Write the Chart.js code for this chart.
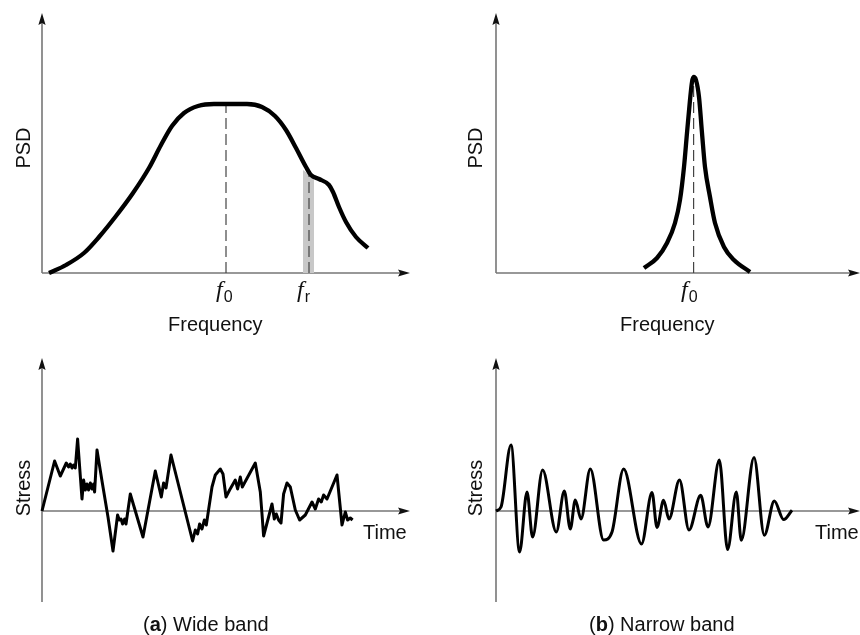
<!DOCTYPE html>
<html>
<head>
<meta charset="utf-8">
<script src="https://cdn.jsdelivr.net/npm/chart.js@4.4.0/dist/chart.umd.min.js"></script>
<style>
  html, body { margin: 0; padding: 0; background: #fff; }
  #figure { position: relative; width: 860px; height: 635px; overflow: hidden;
            font-family: "Liberation Sans", Arial, Helvetica, sans-serif; color: #111; }
  #figure canvas { position: absolute; }
  .lbl { position: absolute; font-size: 20px; line-height: 20px; white-space: nowrap; }
  .rot { transform: translate(-50%, -50%) rotate(-90deg); }
  .sym { font-family: "Liberation Serif", "DejaVu Serif", serif; font-style: italic; font-size: 24px; }
  .sub { font-size: 16px; position: relative; top: 5px; margin-left: 1px; }
</style>
</head>
<body>
<div id="figure">
  <canvas id="psdWide" width="430" height="320" style="left:0;top:0"></canvas>
  <canvas id="psdNarrow" width="430" height="320" style="left:430px;top:0"></canvas>
  <canvas id="stressWide" width="430" height="315" style="left:0;top:320px"></canvas>
  <canvas id="stressNarrow" width="430" height="315" style="left:430px;top:320px"></canvas>

  <div class="lbl rot" style="left:23px;top:148px">PSD</div>
  <div class="lbl rot" style="left:475px;top:148px">PSD</div>
  <div class="lbl" style="left:216px;top:279px"><span class="sym">f</span><span class="sub">0</span></div>
  <div class="lbl" style="left:297px;top:279px"><span class="sym">f</span><span class="sub">r</span></div>
  <div class="lbl" style="left:681px;top:279px"><span class="sym">f</span><span class="sub">0</span></div>
  <div class="lbl" style="left:168px;top:314px">Frequency</div>
  <div class="lbl" style="left:620px;top:314px">Frequency</div>

  <div class="lbl rot" style="left:23px;top:488px">Stress</div>
  <div class="lbl rot" style="left:475px;top:488px">Stress</div>
  <div class="lbl" style="left:363px;top:522px">Time</div>
  <div class="lbl" style="left:815px;top:522px">Time</div>
  <div class="lbl" style="left:143px;top:614px">(<b>a</b>) Wide band</div>
  <div class="lbl" style="left:589px;top:614px">(<b>b</b>) Narrow band</div>
</div>

<script>
// Wide band PSD (frequency / level, arbitrary units)
const psdWideFreq  = [7, 24, 42, 57, 74, 91, 107, 119, 130, 142, 156, 172, 205, 220, 233, 244, 254, 264, 269, 277, 287, 291, 297, 304, 314, 326];
const psdWideLevel = [0, 8, 20, 36, 57, 80, 105, 128, 147, 160, 167, 169, 169, 166, 157, 143, 125, 106, 98, 94, 88, 81, 66, 51, 36, 25];
const f0Wide = 184;
const f0WideTop = 168;
const frWide = 267;
const frWideTop = 99;
const frBandFreq  = [261, 272];
const frBandLevel = [103, 95];

// Narrow band PSD
const psdNarrowFreq  = [148, 161, 171, 179, 184, 188, 191, 194, 196, 197.6, 200, 203, 206, 209, 214, 219, 228, 238, 254];
const psdNarrowLevel = [5, 15, 30, 50, 73, 106, 140, 173, 191, 196, 193, 176, 140, 106, 76, 50, 26, 13, 1];
const f0Narrow = 197.6;
const f0NarrowTop = 194;

// Wide band stress history
const wideTime = [0, 12.6, 18.3, 24.3, 26.6, 28.3, 30, 31.6, 33.3, 35.6, 40, 41.6, 43.3, 45, 46.6, 48.3, 50, 51.6, 52.6,
  55, 60, 66, 71, 75.6, 77.3, 79, 80.6, 82.6, 84, 88.3, 101, 113.3, 119.3, 121.6, 124, 129,
  150.6, 153.3, 155.6, 157.6, 160, 162.3, 164.3, 170, 173.3, 178.3, 181, 184, 187.6, 193.3, 195.6, 198.3, 200.3,
  213.3, 218.3, 220, 221.6, 226.6, 230, 232.3, 234.3, 236.6, 239, 241.6, 245, 248.3, 253.3, 257.6,
  263.3, 270, 273.3, 276.6, 279.3, 281.6, 285, 295, 300, 303.3, 305.6, 308.3, 310.6];
const wideStress = [0, 50, 35, 48, 44, 47, 43, 46, 43, 72, 12, 31, 21, 27, 21, 28, 22, 27, 19,
  61, 30, -6, -40, -4, -9, -8, -13, -8, -13, 17, -26, 40, 14, 28, 23, 56,
  -30, -19, -23, -13, -18, -9, -14, 24, 36, 42, 37, 14, 21, 31, 22, 34, 24,
  48, 19, -3, -25, -6, 7, -8, -3, -9, -12, 17, 28, 24, 1, -9,
  -4, 9, 2, 12, 9, 16, 12, 36, -14, -1, -9, -7, -9];

// Narrow band stress history
const narrowTime   = [0, 5, 15, 23.6, 31, 36.6, 46.6, 60.3, 68.3, 74.3, 79.3, 85, 94.3, 107.6, 116, 127.6, 145.5, 156, 161,
  167.6, 173, 183.5, 193, 204.7, 212, 223.3, 231.6, 240.3, 245.3, 258, 268.3, 278.3, 287.6, 296];
const narrowStress = [0, 4, 66, -41, 19, -26, 41, -21, 20, -18, 11, -8, 42, -29, -21, 42, -33, 18.5, -16.5,
  10.7, -8, 31, -19, 15.7, -16, 51, -38.5, 19, -29.3, 53.4, -24.3, 10, -8.6, 0.7];

function zip(xs, ys) {
  return xs.map((x, i) => ({ x: x, y: ys[i] }));
}

// Draw the two axes with arrow heads, through the chart's scales
const arrowAxes = {
  id: 'arrowAxes',
  beforeDatasetsDraw(chart) {
    const ctx = chart.ctx;
    const xs = chart.scales.x, ys = chart.scales.y;
    const x0 = xs.getPixelForValue(0);
    const y0 = ys.getPixelForValue(0);
    const top = ys.getPixelForValue(ys.max);
    const bottom = ys.getPixelForValue(ys.min);
    const right = xs.getPixelForValue(xs.max);
    ctx.save();
    ctx.strokeStyle = '#777';
    ctx.lineWidth = 1.6;
    ctx.beginPath();
    ctx.moveTo(x0, bottom);
    ctx.lineTo(x0, top + 9);
    ctx.moveTo(x0, y0);
    ctx.lineTo(right - 9, y0);
    ctx.stroke();
    ctx.fillStyle = '#111';
    ctx.beginPath();
    ctx.moveTo(x0, top);
    ctx.lineTo(x0 - 3.6, top + 12);
    ctx.lineTo(x0, top + 10);
    ctx.lineTo(x0 + 3.6, top + 12);
    ctx.closePath();
    ctx.fill();
    ctx.beginPath();
    ctx.moveTo(right, y0);
    ctx.lineTo(right - 12, y0 - 3.6);
    ctx.lineTo(right - 10, y0);
    ctx.lineTo(right - 12, y0 + 3.6);
    ctx.closePath();
    ctx.fill();
    ctx.restore();
  }
};

function curve(points, width, smooth) {
  return {
    data: points,
    borderColor: '#000',
    borderWidth: width,
    borderJoinStyle: 'round',
    cubicInterpolationMode: smooth ? 'monotone' : 'default',
    tension: 0,
    fill: false,
    clip: false
  };
}

function marker(x, top) {
  return {
    data: [{ x: x, y: 0 }, { x: x, y: top }],
    borderColor: '#444',
    borderWidth: 1.2,
    borderDash: [11, 5],
    fill: false,
    clip: false
  };
}

function makeChart(id, datasets, xMax, yMin, yMax, pad) {
  return new Chart(document.getElementById(id), {
    type: 'line',
    data: { datasets: datasets },
    options: {
      responsive: false,
      animation: false,
      events: [],
      layout: { padding: pad },
      plugins: { legend: { display: false }, tooltip: { enabled: false } },
      elements: { point: { radius: 0 } },
      scales: {
        x: { type: 'linear', min: 0, max: xMax, display: false },
        y: { type: 'linear', min: yMin, max: yMax, display: false }
      }
    },
    plugins: [arrowAxes]
  });
}

makeChart('psdWide', [
  curve(zip(psdWideFreq, psdWideLevel), 4.3, true),
  marker(f0Wide, f0WideTop),
  marker(frWide, frWideTop),
  {
    data: zip(frBandFreq, frBandLevel),
    borderWidth: 0,
    backgroundColor: '#c8c8c8',
    fill: 'origin'
  }
], 368, 0, 260, { left: 42, right: 20, top: 13, bottom: 47 });

makeChart('psdNarrow', [
  curve(zip(psdNarrowFreq, psdNarrowLevel), 4.3, true),
  marker(f0Narrow, f0NarrowTop)
], 364, 0, 260, { left: 66, right: 0, top: 13, bottom: 47 });

makeChart('stressWide', [
  curve(zip(wideTime, wideStress), 3, false)
], 368, -91, 153, { left: 42, right: 20, top: 38, bottom: 33 });

makeChart('stressNarrow', [
  curve(zip(narrowTime, narrowStress), 3, true)
], 364, -91, 153, { left: 66, right: 0, top: 38, bottom: 33 });
</script>
</body>
</html>
